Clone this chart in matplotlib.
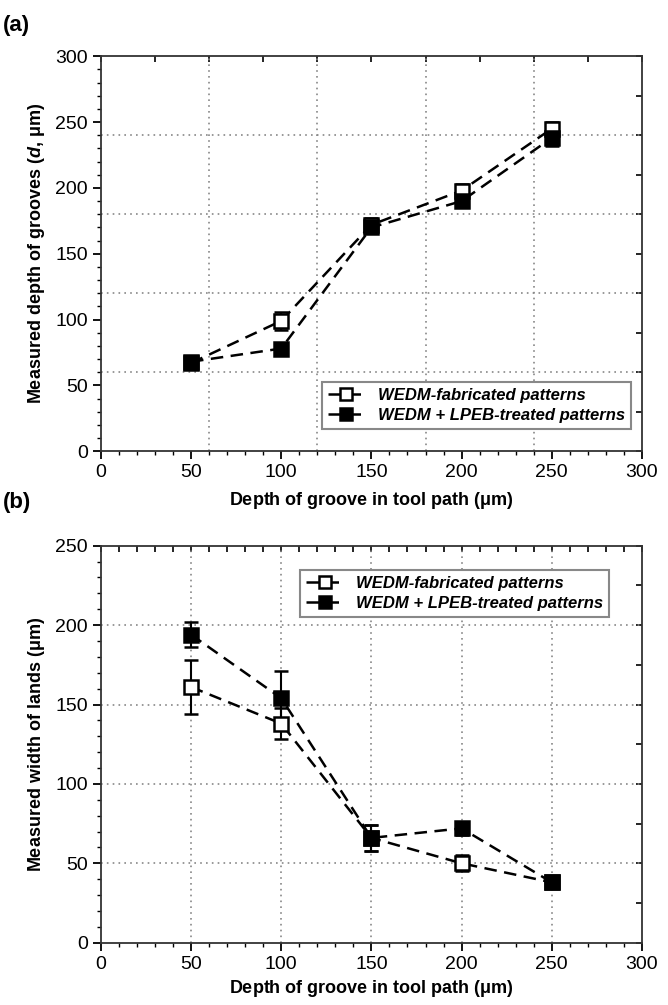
import matplotlib
matplotlib.use("Agg")
import matplotlib.pyplot as plt
from matplotlib.lines import Line2D
from matplotlib.ticker import MultipleLocator

plt.rcParams['font.family'] = ['Liberation Sans', 'DejaVu Sans']
plt.rcParams['mathtext.fontset'] = 'custom'
plt.rcParams['mathtext.it'] = 'Liberation Sans:italic:bold'
plt.rcParams['mathtext.rm'] = 'Liberation Sans:bold'

# ---- data --------------------------------------------------------------
tool_depth = [50, 100, 150, 200, 250]

# (a) measured depth of grooves
depth_wedm = [67, 99, 172, 198, 245]
depth_wedm_err = [3, 7, 5, 5, 5]
depth_lpeb = [68, 78, 170, 190, 238]
depth_lpeb_err = [3, 2, 3, 3, 6]

# (b) measured width of lands
width_wedm = [161, 138, 66, 50, 38]
width_wedm_err = [17, 10, 8, 5, 2]
width_lpeb = [194, 154, 66, 72, 38]
width_lpeb_err = [8, 17, 8, 4, 2]

labels = ['WEDM-fabricated patterns', 'WEDM + LPEB-treated patterns']
xlabel = r'Depth of groove in tool path ($\mathrm{\mu}$m)'
ylabel_a = r'Measured depth of grooves ($d$, $\mathrm{\mu}$m)'
ylabel_b = r'Measured width of lands ($\mathrm{\mu}$m)'

LINE_STYLE = dict(ls=(0, (5, 3)), lw=1.8, color='black', marker='s', mec='black', mew=1.8)


def draw_series(ax, x, y, err, filled):
    ax.errorbar(x, y, yerr=err, ms=10, mfc='black' if filled else 'white',
                ecolor='black', elinewidth=1.5, capsize=5, capthick=1.5,
                zorder=3, **LINE_STYLE)


def style_axes(fig, ax, ymax, ymajor, top_step, right_step, grid_x, grid_y):
    ax.set_xlim(0, 300)
    ax.set_ylim(0, ymax)
    ax.xaxis.set_major_locator(MultipleLocator(50))
    ax.xaxis.set_minor_locator(MultipleLocator(10))
    ax.yaxis.set_major_locator(MultipleLocator(ymajor))
    ax.yaxis.set_minor_locator(MultipleLocator(10))
    ax.tick_params(which='major', direction='out', length=6, width=1.3, labelsize=14)
    ax.tick_params(which='minor', direction='out', length=3, width=1.0)
    for s in ax.spines.values():
        s.set_linewidth(1.3)
        s.set_color('#333333')
    ax.patch.set_alpha(0)

    # overlay for the mirrored ticks and the grid
    ov = fig.add_axes(ax.get_position(), zorder=ax.get_zorder() - 1)
    ov.set_xlim(0, 300)
    ov.set_ylim(0, ymax)
    ov.xaxis.tick_top()
    ov.yaxis.tick_right()
    ov.xaxis.remove_overlapping_locs = False
    ov.yaxis.remove_overlapping_locs = False
    ov.set_xticks(range(0, 301, top_step))
    ov.set_yticks(range(0, ymax + 1, right_step))
    ov.tick_params(direction='in', length=4, width=1.2,
                   labeltop=False, labelright=False)
    ov.set_xticks(grid_x, minor=True)
    ov.set_yticks(grid_y, minor=True)
    ov.tick_params(which='minor', length=0)
    ov.grid(True, which='minor', ls=(0, (1, 2.5)), lw=1.2, color='#888888')
    for s in ov.spines.values():
        s.set_visible(False)


def add_legend(ax, **kw):
    handles = [Line2D([], [], ms=8, mfc='white', **LINE_STYLE),
               Line2D([], [], ms=8, mfc='black', **LINE_STYLE)]
    leg = ax.legend(handles, labels,
                    prop={'weight': 'bold', 'style': 'italic', 'size': 12},
                    handlelength=2.2, borderpad=0.35, labelspacing=0.3,
                    fancybox=False, edgecolor='#888888', framealpha=1, **kw)
    leg.get_frame().set_linewidth(1.5)
    return leg


fig = plt.figure(figsize=(6.68, 10.05), dpi=100)

# ---- (a) ---------------------------------------------------------------
ax1 = fig.add_axes([0.151, 0.551, 0.810, 0.393])
draw_series(ax1, tool_depth, depth_wedm, depth_wedm_err, False)
draw_series(ax1, tool_depth, depth_lpeb, depth_lpeb_err, True)
style_axes(fig, ax1, 300, 50, 30, 30, [60, 120, 180, 240], [60, 120, 180, 240])
ax1.set_xlabel(xlabel, fontsize=13, fontweight='bold', labelpad=6)
ax1.set_ylabel(ylabel_a, fontsize=13, fontweight='bold', labelpad=6)
add_legend(ax1, loc='lower right', bbox_to_anchor=(0.995, 0.035))
fig.text(0.005, 0.985, '(a)', fontsize=16, fontweight='bold', va='top')

# ---- (b) ---------------------------------------------------------------
ax2 = fig.add_axes([0.151, 0.062, 0.810, 0.395])
draw_series(ax2, tool_depth, width_wedm, width_wedm_err, False)
draw_series(ax2, tool_depth, width_lpeb, width_lpeb_err, True)
style_axes(fig, ax2, 250, 50, 10, 25, [50, 100, 150, 200, 250], [50, 100, 150, 200])
ax2.set_xlabel(xlabel, fontsize=13, fontweight='bold', labelpad=4)
ax2.set_ylabel(ylabel_b, fontsize=13, fontweight='bold', labelpad=6)
add_legend(ax2, loc='upper right', bbox_to_anchor=(0.955, 0.96))
fig.text(0.005, 0.5, '(b)', fontsize=16, fontweight='bold', va='center')

fig.savefig('out.png', dpi=100)
